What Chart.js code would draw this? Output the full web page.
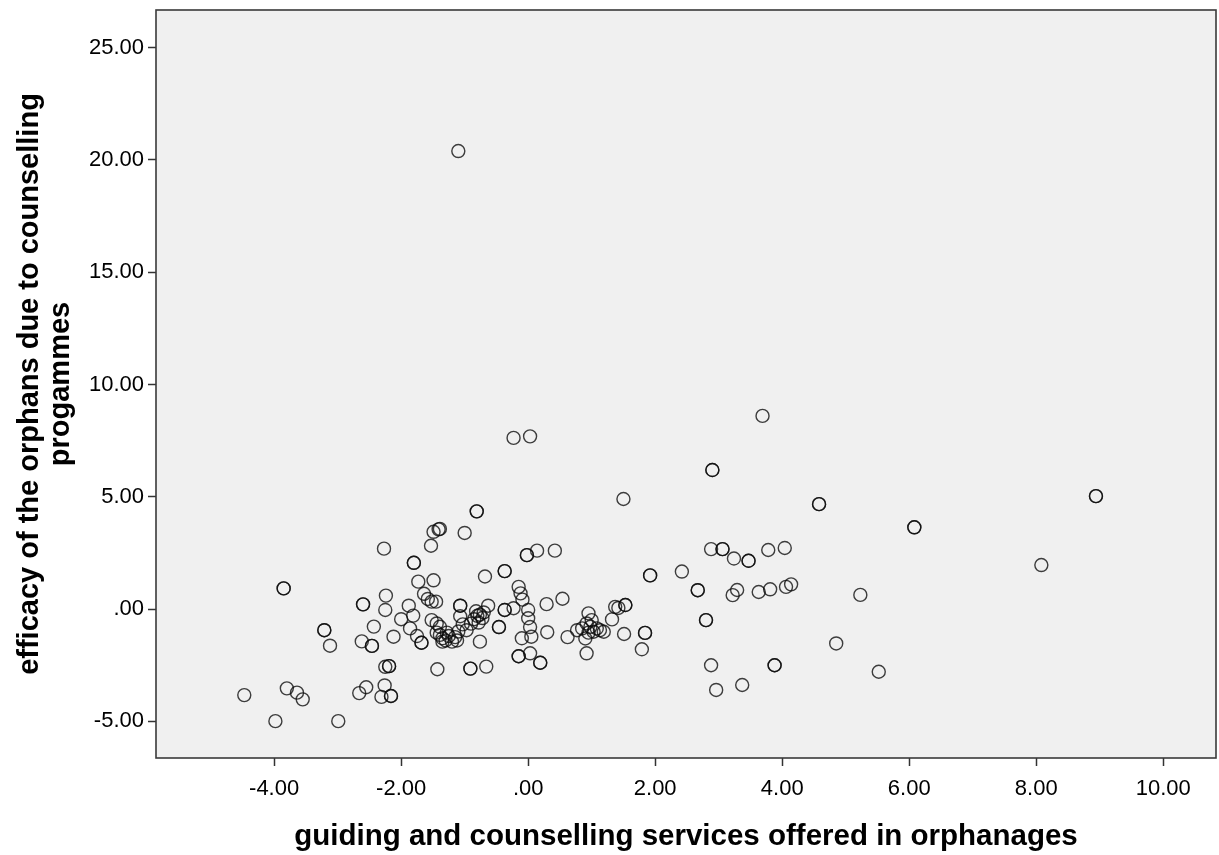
<!DOCTYPE html>
<html>
<head>
<meta charset="utf-8">
<script src="https://cdn.jsdelivr.net/npm/chart.js@4.4.0/dist/chart.umd.min.js"></script>
<style>
  html, body { margin: 0; padding: 0; background: #fff; }
  #wrap { width: 1219px; height: 855px; position: relative; }
</style>
</head>
<body>
<div id="wrap"><canvas id="scatter"></canvas></div>
<script>
// values (bold circles = two cases on top of each other)
const xVals = [
  -4.47, -3.80, -3.64, -3.55, -3.98, -2.99, -2.66, -2.55, -2.26, -2.31,
  -2.16, -2.16, -3.85, -3.85, -3.21, -3.21, -3.12, -2.60, -2.60, -2.24,
  -2.25, -2.43, -2.12, -2.62, -2.46, -2.46, -2.25, -2.19, -2.19, -2.27,
  -1.80, -1.80, -1.73, -1.49, -1.53, -1.49, -1.41, -1.39, -1.00, -0.81,
  -0.81, -1.64, -1.58, -1.52, -1.45, -1.88, -1.81, -2.00, -1.86, -1.75,
  -1.68, -1.68, -1.52, -1.44, -1.39, -1.44, -1.39, -1.35, -1.30, -1.25,
  -1.20, -1.35, -1.15, -1.28, -1.07, -1.07, -1.07, -1.03, -0.97, -1.10,
  -1.12, -0.82, -0.76, -0.85, -0.72, -0.78, -0.90, -0.70, -0.80, -0.63,
  -0.76, -0.46, -0.46, -0.37, -0.37, -0.23, -0.15, -0.12, -0.09, 0.00,
  0.00, 0.03, 0.05, -0.10, 0.29, 0.54, 0.30, 0.62, -0.15, -0.15,
  0.03, 0.19, 0.19, -1.43, -0.91, -0.91, -0.66, -0.68, -0.37, -0.37,
  -0.02, -0.02, 0.14, 0.42, -0.23, 0.03, -1.10, 0.95, 0.92, 0.77,
  0.85, 0.92, 0.98, 1.03, 1.08, 1.13, 1.19, 0.90, 1.00, 0.95,
  1.37, 1.42, 1.53, 1.53, 1.32, 1.51, 1.84, 1.84, 1.79, 1.92,
  1.92, 2.42, 1.50, 2.67, 2.67, 2.80, 2.80, 2.88, 2.96, 3.37,
  3.88, 3.88, 4.85, 5.52, 5.23, 3.22, 3.29, 3.63, 3.81, 4.06,
  4.14, 2.88, 3.06, 3.06, 3.24, 3.47, 3.47, 3.78, 4.04, 2.90,
  2.90, 3.69, 4.58, 4.58, 6.08, 6.08, 8.94, 8.94, 8.08
];
const yVals = [
  -3.83, -3.53, -3.72, -4.02, -4.99, -4.99, -3.74, -3.48, -3.40, -3.91,
  -3.87, -3.87, 0.92, 0.92, -0.94, -0.94, -1.63, 0.21, 0.21, 0.60,
  -0.04, -0.78, -1.23, -1.44, -1.64, -1.64, -2.57, -2.54, -2.54, 2.69,
  2.06, 2.06, 1.22, 1.28, 2.82, 3.44, 3.55, 3.57, 3.39, 4.35,
  4.35, 0.68, 0.45, 0.33, 0.33, 0.15, -0.29, -0.45, -0.86, -1.20,
  -1.50, -1.50, -0.49, -0.64, -0.79, -1.05, -1.15, -1.30, -1.40, -1.20,
  -1.45, -1.45, -1.25, -1.05, 0.15, 0.15, -0.32, -0.68, -0.94, -1.00,
  -1.40, -0.10, -0.25, -0.45, -0.40, -0.60, -0.65, -0.15, -0.30, 0.15,
  -1.45, -0.80, -0.80, -0.04, -0.04, 0.04, 0.99, 0.70, 0.42, -0.04,
  -0.41, -0.80, -1.23, -1.30, 0.22, 0.46, -1.03, -1.25, -2.10, -2.10,
  -1.97, -2.39, -2.39, -2.68, -2.65, -2.65, -2.56, 1.45, 1.69, 1.69,
  2.40, 2.40, 2.60, 2.60, 7.62, 7.69, 20.39, -0.19, -1.97, -0.94,
  -0.86, -0.64, -0.79, -1.01, -0.86, -0.94, -1.01, -1.31, -0.49, -1.05,
  0.10, 0.05, 0.18, 0.18, -0.46, -1.11, -1.06, -1.06, -1.79, 1.50,
  1.50, 1.67, 4.90, 0.84, 0.84, -0.49, -0.49, -2.50, -3.60, -3.38,
  -2.50, -2.50, -1.53, -2.79, 0.63, 0.62, 0.85, 0.76, 0.88, 0.99,
  1.10, 2.67, 2.67, 2.67, 2.25, 2.15, 2.15, 2.63, 2.72, 6.19,
  6.19, 8.60, 4.67, 4.67, 3.64, 3.64, 5.03, 5.03, 1.96
];
const xTicks = [-4, -2, 0, 2, 4, 6, 8, 10];
const yTicks = [-5, 0, 5, 10, 15, 20, 25];
const xTitle = 'guiding and counselling services offered in orphanages';
const yTitle = ['efficacy of the orphans due to counselling', 'progammes'];

// SPSS style labels: ".00" instead of "0.00"
function fmt(v) {
  let s = Number(v).toFixed(2);
  if (s.startsWith('0')) s = s.slice(1);
  else if (s.startsWith('-0')) s = '-' + s.slice(2);
  return s;
}

// grey plot background and the frame round it
const frame = {
  id: 'frame',
  beforeDatasetsDraw(chart) {
    const a = chart.chartArea, ctx = chart.ctx;
    ctx.save();
    ctx.fillStyle = '#f0f0f0';
    ctx.fillRect(a.left, a.top, a.right - a.left, a.bottom - a.top);
    ctx.restore();
  },
  afterDraw(chart) {
    const a = chart.chartArea, ctx = chart.ctx;
    ctx.save();
    ctx.strokeStyle = '#3a3a3a';
    ctx.lineWidth = 1.6;
    ctx.strokeRect(a.left, a.top, a.right - a.left, a.bottom - a.top);
    ctx.restore();
  }
};

const points = xVals.map(function (x, i) { return { x: x, y: yVals[i] }; });

new Chart(document.getElementById('scatter'), {
  type: 'scatter',
  data: {
    datasets: [{
      data: points,
      pointStyle: 'circle',
      pointRadius: 6.5,
      pointHoverRadius: 6.5,
      pointBorderWidth: 1.4,
      borderColor: 'rgba(10, 10, 10, 0.78)',
      backgroundColor: 'rgba(0, 0, 0, 0)'
    }]
  },
  options: {
    responsive: true,
    maintainAspectRatio: false,
    animation: false,
    layout: { autoPadding: false, padding: { top: 10, right: 3, left: 0, bottom: 0 } },
    plugins: {
      legend: { display: false },
      tooltip: { enabled: false }
    },
    scales: {
      x: {
        type: 'linear',
        min: -5.86,
        max: 10.83,
        afterBuildTicks: function (s) { s.ticks = xTicks.map(function (v) { return { value: v }; }); },
        afterFit: function (s) { s.height = 97; s.paddingLeft = 0; s.paddingRight = 0; },
        border: { display: false },
        grid: { drawOnChartArea: false, drawTicks: true, tickLength: 8, tickColor: '#333', tickWidth: 1.5 },
        ticks: {
          callback: fmt,
          color: '#000',
          padding: 10,
          maxRotation: 0,
          autoSkip: false,
          font: { family: 'Liberation Sans', size: 22 }
        },
        title: {
          display: true,
          text: xTitle,
          color: '#000',
          padding: { top: 10, bottom: 0 },
          font: { family: 'Liberation Sans', size: 29.5, weight: 'bold' }
        }
      },
      y: {
        type: 'linear',
        min: -6.63,
        max: 26.67,
        afterBuildTicks: function (s) { s.ticks = yTicks.map(function (v) { return { value: v }; }); },
        afterFit: function (s) { s.width = 156; s.paddingTop = 0; s.paddingBottom = 0; },
        border: { display: false },
        grid: { drawOnChartArea: false, drawTicks: true, tickLength: 8, tickColor: '#333', tickWidth: 1.5 },
        ticks: {
          callback: fmt,
          color: '#000',
          padding: 4,
          autoSkip: false,
          font: { family: 'Liberation Sans', size: 22 }
        },
        title: {
          display: true,
          text: yTitle,
          color: '#000',
          padding: { top: 14, bottom: 0 },
          font: { family: 'Liberation Sans', size: 29, weight: 'bold', lineHeight: 1.07 }
        }
      }
    }
  },
  plugins: [frame]
});
</script>
</body>
</html>
